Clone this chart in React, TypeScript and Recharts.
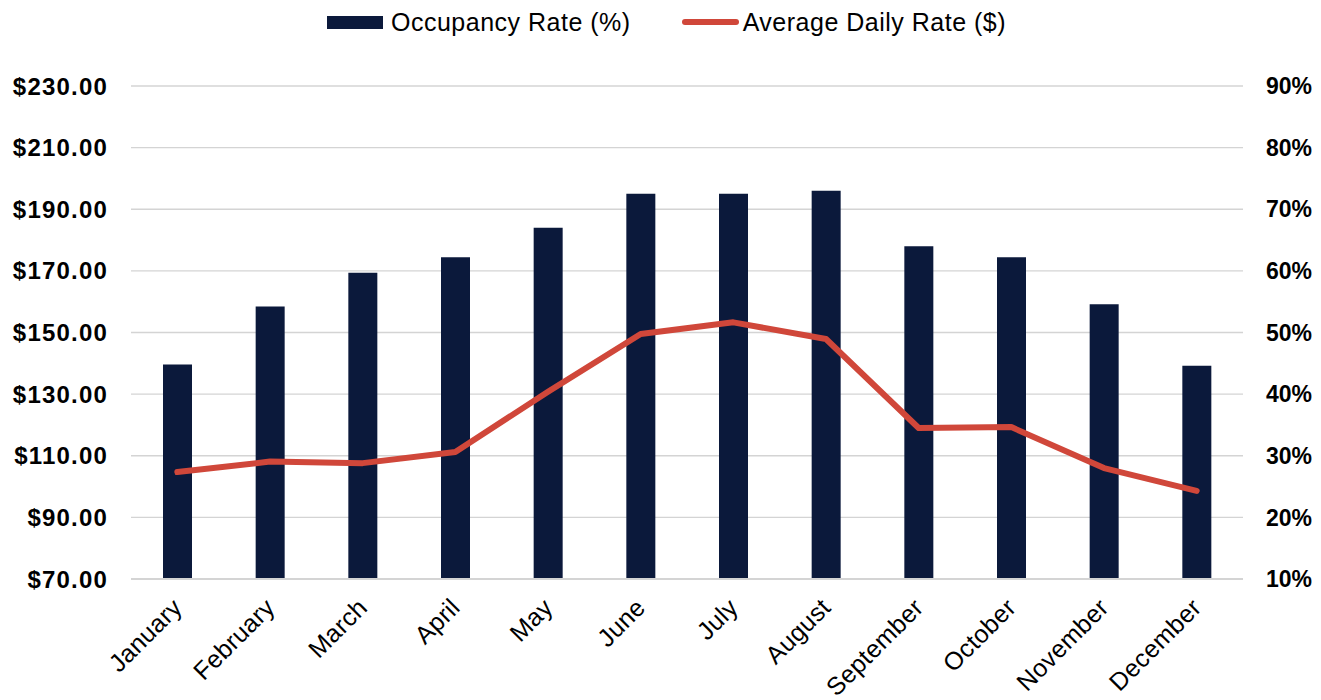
import {
  Bar,
  CartesianGrid,
  ComposedChart,
  Legend,
  Line,
  XAxis,
  YAxis,
} from "recharts";

const months = [
  "January",
  "February",
  "March",
  "April",
  "May",
  "June",
  "July",
  "August",
  "September",
  "October",
  "November",
  "December",
];
const occupancyRate = [44.8, 54.2, 59.7, 62.2, 67.0, 72.5, 72.5, 73.0, 64.0, 62.2, 54.6, 44.6];
const averageDailyRate = [104.7, 108.1, 107.6, 111.2, 130.8, 149.5, 153.3, 147.9, 119.0, 119.3, 106.0, 98.6];
const dollarTicks = [70, 90, 110, 130, 150, 170, 190, 210, 230];
const percentTicks = [10, 20, 30, 40, 50, 60, 70, 80, 90];

const navy = "#0b193b";
const red = "#d0473a";
const font = '"Liberation Sans", Arial, sans-serif';

const chartData = months.map((month, i) => ({
  month,
  occupancy: occupancyRate[i],
  adr: averageDailyRate[i],
}));

function MonthTick({ x, y, payload }: any) {
  const px = x;
  const py = y + 16;
  return (
    <text
      x={px}
      y={py}
      dy="0.35em"
      transform={`rotate(-45 ${px} ${py})`}
      textAnchor="end"
      fontFamily={font}
      fontSize={25}
      letterSpacing={0.3}
      fill="#000"
    >
      {payload.value}
    </text>
  );
}

function ChartLegend() {
  return (
    <div
      style={{
        display: "flex",
        alignItems: "center",
        height: 44,
        paddingLeft: 327,
        fontFamily: font,
        fontSize: 25,
        letterSpacing: 0.5,
        color: "#000",
      }}
    >
      <span style={{ width: 56, height: 13, background: navy, marginRight: 8 }} />
      <span>Occupancy Rate (%)</span>
      <span
        style={{
          width: 57,
          height: 6,
          borderRadius: 3,
          background: red,
          marginLeft: 51,
          marginRight: 4,
        }}
      />
      <span>Average Daily Rate ($)</span>
    </div>
  );
}

export default function App() {
  return (
    <div style={{ position: "absolute", left: 0, top: 0, background: "#fff" }}>
      <ComposedChart
        width={1321}
        height={700}
        data={chartData}
        margin={{ top: 0, right: 0, bottom: 0, left: 0 }}
      >
        <Legend
          verticalAlign="top"
          content={() => <ChartLegend />}
          wrapperStyle={{ top: 0, left: 0, width: 1321, height: 86 }}
        />
        <CartesianGrid
          yAxisId="left"
          vertical={false}
          stroke="#d4d4d4"
          strokeWidth={1.4}
        />
        <XAxis
          dataKey="month"
          interval={0}
          height={121}
          tickLine={false}
          axisLine={{ stroke: "#d4d4d4", strokeWidth: 2 }}
          tick={<MonthTick />}
        />
        <YAxis
          yAxisId="left"
          orientation="left"
          width={131}
          domain={[70, 230]}
          ticks={dollarTicks}
          axisLine={false}
          tickLine={false}
          tickSize={6}
          tickMargin={17}
          tickFormatter={(v: number) => `$${v.toFixed(2)}`}
          tick={{
            fontFamily: font,
            fontSize: 24,
            fontWeight: 700,
            fill: "#000",
            letterSpacing: 1.2,
          }}
        />
        <YAxis
          yAxisId="right"
          orientation="right"
          width={78}
          domain={[10, 90]}
          ticks={percentTicks}
          axisLine={false}
          tickLine={false}
          tickSize={6}
          tickMargin={17}
          tickFormatter={(v: number) => `${v}%`}
          tick={{
            fontFamily: font,
            fontSize: 23,
            fontWeight: 700,
            fill: "#000",
          }}
        />
        <Bar
          yAxisId="right"
          dataKey="occupancy"
          name="Occupancy Rate (%)"
          fill={navy}
          barSize={29}
          isAnimationActive={false}
        />
        <Line
          yAxisId="left"
          type="linear"
          dataKey="adr"
          name="Average Daily Rate ($)"
          stroke={red}
          strokeWidth={6}
          strokeLinecap="round"
          strokeLinejoin="round"
          dot={false}
          activeDot={false}
          isAnimationActive={false}
        />
      </ComposedChart>
    </div>
  );
}
